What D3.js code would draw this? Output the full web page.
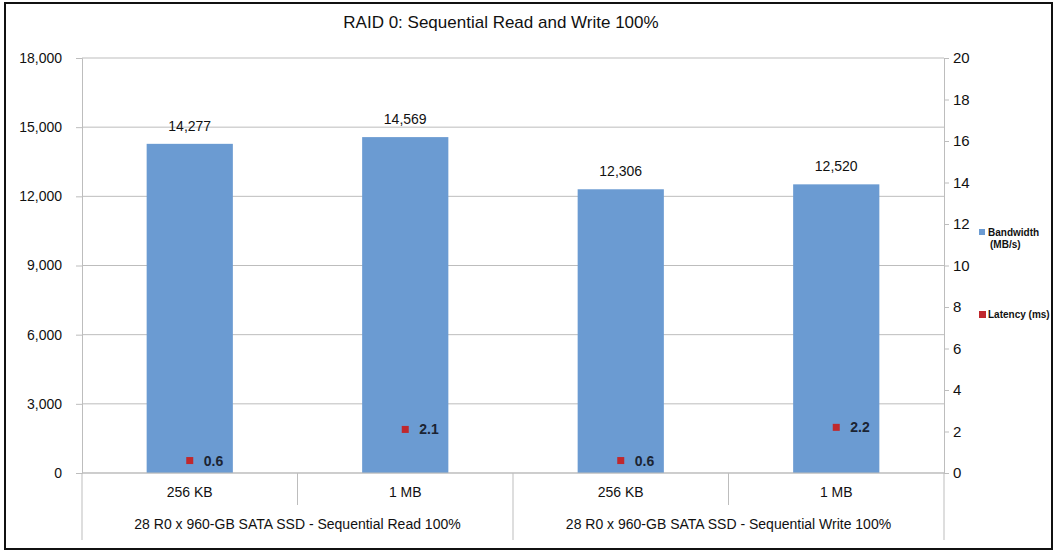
<!DOCTYPE html>
<html>
<head>
<meta charset="utf-8">
<script src="https://cdn.jsdelivr.net/npm/d3@7"></script>
<style>
  body { margin: 0; background: #fff; }
  svg text { font-family: "Liberation Sans", Arial, sans-serif; fill: #111; }
</style>
</head>
<body>
<div id="chart"></div>
<script>
// chart data
var categories = ["256 KB", "1 MB", "256 KB", "1 MB"];
var groups = ["28 R0 x 960-GB SATA SSD - Sequential Read 100%", "28 R0 x 960-GB SATA SSD - Sequential Write 100%"];
var bandwidth = [14277, 14569, 12306, 12520];
var latency = [0.6, 2.1, 0.6, 2.2];
var leftTicks = [0, 3000, 6000, 9000, 12000, 15000, 18000];
var rightTicks = [0, 2, 4, 6, 8, 10, 12, 14, 16, 18, 20];

var svgWidth = 1058, svgHeight = 554;
var margin = {top: 58, left: 82, right: 114, bottom: 81};
var chartWidth = svgWidth - margin.left - margin.right;
var chartHeight = svgHeight - margin.top - margin.bottom;

var svg = d3.select("#chart").append("svg")
    .attr("width", svgWidth)
    .attr("height", svgHeight);

// outer frame
svg.append("rect")
    .attr("x", 5).attr("y", 3)
    .attr("width", 1047).attr("height", 546)
    .style("fill", "none")
    .style("stroke", "#111")
    .style("stroke-width", 2);

svg.append("text")
    .attr("x", 501).attr("y", 28)
    .attr("text-anchor", "middle")
    .style("font-size", "17px")
    .text("RAID 0: Sequential Read and Write 100%");

var chartGroup = svg.append("g")
    .attr("transform", `translate(${margin.left}, ${margin.top})`);

var xScale = d3.scaleBand()
    .domain(d3.range(categories.length))
    .range([0, chartWidth])
    .paddingInner(0.6)
    .paddingOuter(0.3);

var yLeft = d3.scaleLinear().domain([0, 18000]).range([chartHeight, 0]);
var yRight = d3.scaleLinear().domain([0, 20]).range([chartHeight, 0]);

// gridlines
chartGroup.append("g")
    .selectAll("line")
    .data(leftTicks)
    .enter()
    .append("line")
    .attr("x1", 0).attr("x2", chartWidth)
    .attr("y1", d => yLeft(d)).attr("y2", d => yLeft(d))
    .style("stroke", "#bdbdbd");

// left axis
var leftAxis = d3.axisLeft(yLeft).tickValues(leftTicks).tickFormat(d3.format(",")).tickSize(6).tickPadding(14);
var yAxisL = chartGroup.append("g").call(leftAxis);
yAxisL.select(".domain").style("stroke", "#bdbdbd");
yAxisL.selectAll(".tick line").style("stroke", "#bdbdbd");
yAxisL.selectAll("text").style("font-size", "14px").style("fill", "#111").style("font-family", "Liberation Sans, Arial, sans-serif");

// right axis
var rightAxis = d3.axisRight(yRight).tickValues(rightTicks).tickSize(5).tickPadding(4);
var yAxisR = chartGroup.append("g")
    .attr("transform", `translate(${chartWidth}, 0)`)
    .call(rightAxis);
yAxisR.select(".domain").style("stroke", "#bdbdbd");
yAxisR.selectAll(".tick line").style("stroke", "#bdbdbd");
yAxisR.selectAll("text").style("font-size", "15px").style("fill", "#111").style("font-family", "Liberation Sans, Arial, sans-serif");

// bars
chartGroup.append("g")
    .selectAll("rect")
    .data(bandwidth)
    .enter()
    .append("rect")
    .attr("x", (d, i) => xScale(i))
    .attr("y", d => yLeft(d))
    .attr("width", xScale.bandwidth())
    .attr("height", d => chartHeight - yLeft(d))
    .style("fill", "#6b9bd2");

chartGroup.append("g")
    .selectAll("text")
    .data(bandwidth)
    .enter()
    .append("text")
    .attr("x", (d, i) => xScale(i) + xScale.bandwidth() / 2)
    .attr("y", d => yLeft(d) - 13)
    .attr("text-anchor", "middle")
    .style("font-size", "14px")
    .text(d => d3.format(",")(d));

// latency markers
var step = chartWidth / categories.length;
chartGroup.append("g")
    .selectAll("rect")
    .data(latency)
    .enter()
    .append("rect")
    .attr("x", (d, i) => xScale(i) + xScale.bandwidth() / 2 - 3.5)
    .attr("y", d => yRight(d) - 3.5)
    .attr("width", 7).attr("height", 7)
    .style("fill", "#c0282d");

chartGroup.append("g")
    .selectAll("text")
    .data(latency)
    .enter()
    .append("text")
    .attr("x", (d, i) => xScale(i) + xScale.bandwidth() / 2 + 14)
    .attr("y", d => yRight(d) + 5)
    .style("font-size", "14px")
    .style("font-weight", "bold")
    .style("fill", "#1b2433")
    .text(d => d.toFixed(1));

// x axis line and category labels
chartGroup.append("line")
    .attr("x1", 0).attr("x2", chartWidth)
    .attr("y1", chartHeight).attr("y2", chartHeight)
    .style("stroke", "#bdbdbd");

var catSeps = d3.range(categories.length + 1);
chartGroup.append("g")
    .selectAll("line")
    .data(catSeps)
    .enter()
    .append("line")
    .attr("x1", d => d * step).attr("x2", d => d * step)
    .attr("y1", chartHeight)
    .attr("y2", d => (d % 2 === 0) ? chartHeight + 67 : chartHeight + 32)
    .style("stroke", "#bdbdbd");

chartGroup.append("g")
    .selectAll("text")
    .data(categories)
    .enter()
    .append("text")
    .attr("x", (d, i) => xScale(i) + xScale.bandwidth() / 2)
    .attr("y", chartHeight + 24)
    .attr("text-anchor", "middle")
    .style("font-size", "14px")
    .text(d => d);

chartGroup.append("g")
    .selectAll("text")
    .data(groups)
    .enter()
    .append("text")
    .attr("x", (d, i) => (i * 2 + 1) * step)
    .attr("y", chartHeight + 56)
    .attr("text-anchor", "middle")
    .style("font-size", "14px")
    .text(d => d);

// legend
var legend = svg.append("g");
legend.append("rect").attr("x", 979).attr("y", 229).attr("width", 6).attr("height", 6).style("fill", "#6b9bd2");
legend.append("text").attr("x", 988).attr("y", 236).style("font-size", "10px").style("font-weight", "bold").text("Bandwidth");
legend.append("text").attr("x", 990).attr("y", 248).style("font-size", "10px").style("font-weight", "bold").text("(MB/s)");
legend.append("rect").attr("x", 979).attr("y", 311).attr("width", 7).attr("height", 7).style("fill", "#c0282d");
legend.append("text").attr("x", 988).attr("y", 318).style("font-size", "10px").style("font-weight", "bold").text("Latency (ms)");
</script>
</body>
</html>
